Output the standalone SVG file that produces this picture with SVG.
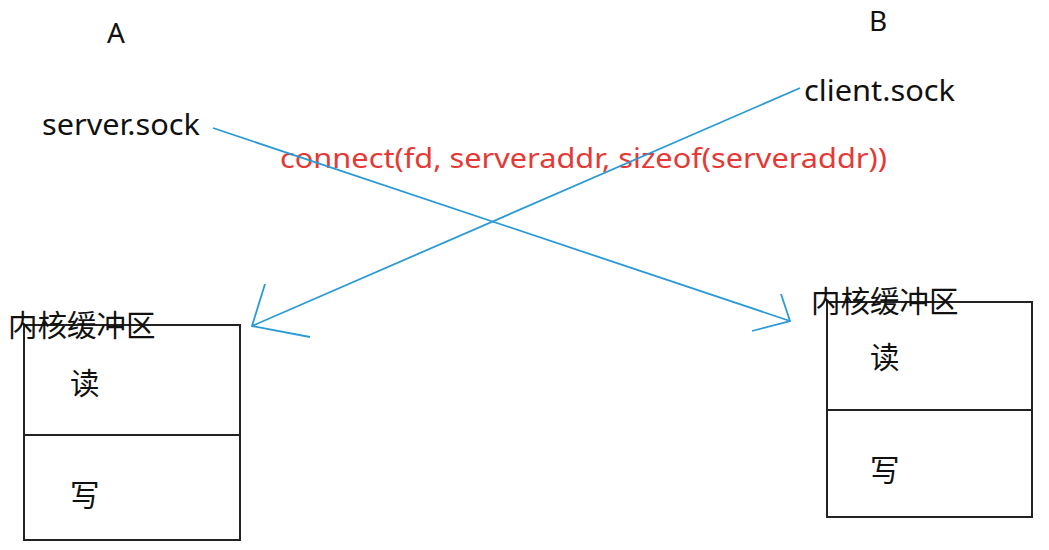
<svg xmlns="http://www.w3.org/2000/svg" width="1049" height="550" viewBox="0 0 1049 550">
<style>
.t{font-family:"Noto Sans","Open Sans","Noto Sans CJK SC",sans-serif;fill:#111}
.c{font-family:"Noto Sans CJK SC","Noto Sans",sans-serif;fill:#111;font-size:29.5px}
.box{fill:none;stroke:#222;stroke-width:2}
.ln{fill:none;stroke:#2a9ad6;stroke-width:1.8}
</style>
<rect width="1049" height="550" fill="#fff"/>
<g id="labelA"><text class="t" x="107" y="43" font-size="28">A</text></g>
<g id="labelB"><text class="t" x="869" y="31" font-size="28">B</text></g>
<g id="server"><text class="t" x="42" y="135" font-size="29" textLength="158" lengthAdjust="spacingAndGlyphs">server.sock</text></g>
<g id="client"><text class="t" x="804" y="101" font-size="29" textLength="151" lengthAdjust="spacingAndGlyphs">client.sock</text></g>
<g id="call"><text x="280" y="168" font-size="27" textLength="607" lengthAdjust="spacingAndGlyphs" font-family="'Noto Sans','Open Sans',sans-serif" fill="#e53935">connect(fd, serveraddr, sizeof(serveraddr))</text></g>
<g id="bufA">
<rect class="box" x="24" y="325" width="216" height="215"/>
<line class="box" x1="24" y1="435" x2="240" y2="435"/>
<text class="c" x="8" y="336">内核缓冲区</text>
<text class="c" x="70" y="394">读</text>
<text class="c" x="70" y="506">写</text>
</g>
<g id="bufB">
<rect class="box" x="827" y="302" width="205" height="215"/>
<line class="box" x1="827" y1="410" x2="1032" y2="410"/>
<text class="c" x="811" y="312">内核缓冲区</text>
<text class="c" x="870" y="368">读</text>
<text class="c" x="870" y="481">写</text>
</g>
<g id="connectors">
<path class="ln" d="M213,128 L790,321 M781,294 L790,321 L752,331"/>
<path class="ln" d="M800,88 L252,326 M265,284 L252,326 L310,337"/>
</g>
</svg>
